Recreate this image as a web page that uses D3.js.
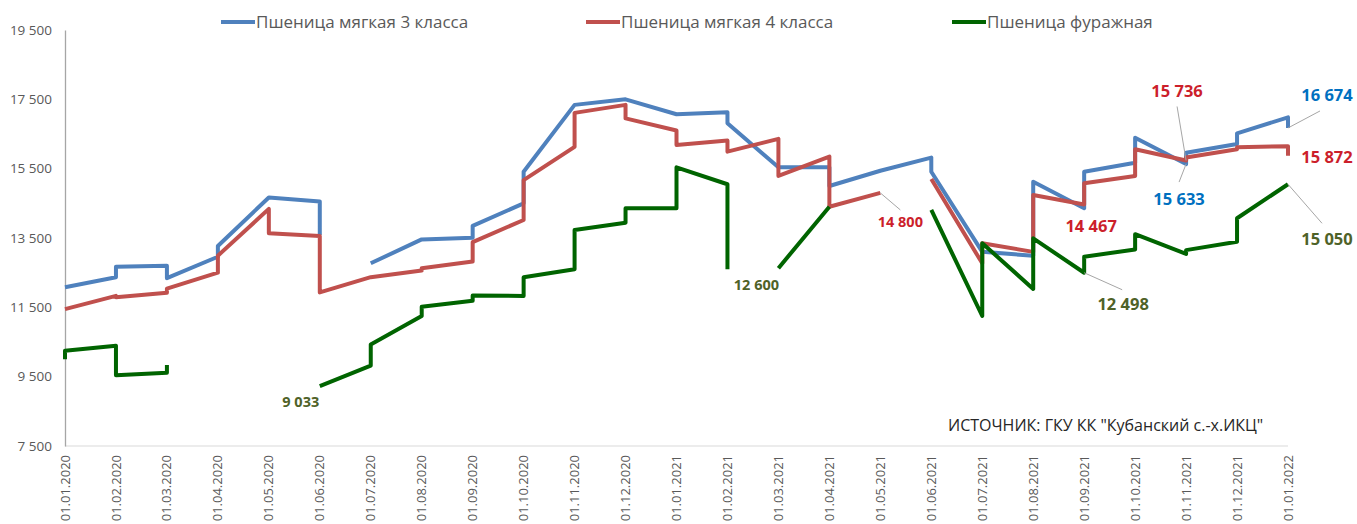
<!DOCTYPE html>
<head>
  <meta charset="utf-8">
  <script src="https://d3js.org/d3.v7.min.js"></script>
  <style>
    body { margin: 0; background: #fff; }
    text { font-family: "Open Sans", "Liberation Sans", sans-serif; }
  </style>
</head>
<body>
<script>
  // month tick labels (x axis categories)
  var months = ["01.01.2020", "01.02.2020", "01.03.2020", "01.04.2020", "01.05.2020", "01.06.2020",
    "01.07.2020", "01.08.2020", "01.09.2020", "01.10.2020", "01.11.2020", "01.12.2020",
    "01.01.2021", "01.02.2021", "01.03.2021", "01.04.2021", "01.05.2021", "01.06.2021",
    "01.07.2021", "01.08.2021", "01.09.2021", "01.10.2021", "01.11.2021", "01.12.2021", "01.01.2022"];

  var yTicks = [7500, 9500, 11500, 13500, 15500, 17500, 19500];

  // [month index, price]; two points on the same month make the vertical steps, null breaks the line
  var wheat3 = [[0, 12080], [1, 12370], [1, 12670], [2, 12700], [2, 12340], [3, 12960], [3, 13270],
    [4, 14670], [5, 14550], [5, 13590], [5, null], [6, 12770], [7, 13460], [8, 13510], [8, 13850],
    [9, 14500], [9, 15410], [10, 17340], [11, 17500], [12, 17070], [13, 17130], [13, 16810],
    [14, 15540], [15, 15540], [15, 15000], [16, 15440], [17, 15820], [17, 15410], [18, 13100],
    [19, 12990], [19, 15120], [20, 14360], [20, 15410], [21, 15670], [21, 16390], [22, 15633],
    [22, 15960], [23, 16210], [23, 16520], [24, 16980], [24, 16674]];

  var wheat4 = [[0, 11450], [1, 11830], [1, 11790], [2, 11920], [2, 12040], [3, 12500], [3, 12990],
    [4, 14340], [4, 13640], [5, 13560], [5, 11930], [6, 12370], [7, 12560], [7, 12630], [8, 12820],
    [8, 13380], [9, 14020], [9, 15170], [10, 16130], [10, 17110], [11, 17340], [11, 16950],
    [12, 16600], [12, 16180], [13, 16310], [13, 15990], [14, 16360], [14, 15290], [15, 15850],
    [15, 14400], [16, 14800], [16, null], [17, 15200], [18, 12770], [18, 13350], [19, 13100],
    [19, 14740], [20, 14467], [20, 15080], [21, 15290], [21, 16060], [22, 15736], [22, 15820],
    [23, 16060], [23, 16120], [24, 16150], [24, 15872]];

  var feedWheat = [[0, 10000], [0, 10250], [1, 10390], [1, 9540], [2, 9610], [2, 9840], [2, null],
    [5, 9230], [6, 9820], [6, 10430], [7, 11250], [7, 11520], [8, 11690], [8, 11840], [9, 11830],
    [9, 12370], [10, 12600], [10, 13730], [11, 13940], [11, 14360], [12, 14360], [12, 15540],
    [13, 15050], [13, 12600], [13, null], [14, 12630], [15, 14400], [15, null], [17, 14310],
    [18, 11250], [18, 13350], [19, 12030], [19, 13490], [20, 12498], [20, 12960], [21, 13170],
    [21, 13610], [22, 13040], [22, 13150], [23, 13390], [23, 14070], [24, 15050]];

  var seriesNames = ["Пшеница мягкая 3 класса", "Пшеница мягкая 4 класса", "Пшеница фуражная"];
  var seriesColors = ["#4f81bd", "#c0504d", "#006400"];
  var labelColors = ["#0070c0", "#cc1f2b", "#4f6228"];

  // data labels: series, month index, value shown
  var dataLabels = [
    { s: 2, m: 5, v: 9033 }, { s: 2, m: 13, v: 12600 }, { s: 1, m: 16, v: 14800 },
    { s: 1, m: 22, v: 15736 }, { s: 0, m: 22, v: 15633 }, { s: 1, m: 20, v: 14467 },
    { s: 2, m: 20, v: 12498 }, { s: 0, m: 24, v: 16674 }, { s: 1, m: 24, v: 15872 },
    { s: 2, m: 24, v: 15050 }];

  var outerWidth = 1357, outerHeight = 524;
  var margin = { top: 30, left: 65, right: 69, bottom: 78 };

  // label placement relative to its point (dx, dy, leader end, size)
  var labelPlace = [
    { dx: -19, dy: 9, size: 14.5 }, { dx: 29, dy: 16, size: 14.5 }, { dx: 20, dy: 29, size: 14.5, lx: 20, ly: 17 },
    { dx: -9, dy: -69, size: 16.5, lx: -9, ly: -54 }, { dx: -7, dy: 35, size: 16.5, lx: -7, ly: 18 },
    { dx: 7, dy: 22, size: 16.5 }, { dx: 39, dy: 31, size: 16.5, lx: 38, ly: 17 },
    { dx: 39, dy: -33, size: 16.5, lx: 32, ly: -17 }, { dx: 39, dy: 1, size: 16.5 },
    { dx: 39, dy: 55, size: 16.5, lx: 34, ly: 39 }];

  var width = outerWidth - margin.left - margin.right,
    height = outerHeight - margin.top - margin.bottom;

  var xScale = d3.scalePoint().domain(d3.range(months.length)).range([0, width]);
  var yScale = d3.scaleLinear().domain([7500, 19500]).range([height, 0]);

  var svg = d3.select("body").append("svg")
    .attr("width", outerWidth)
    .attr("height", outerHeight)
    .append("g")
    .attr("transform", "translate(" + margin.left + "," + margin.top + ")");

  // x axis baseline
  svg.append("line")
    .attr("x1", 0).attr("x2", width)
    .attr("y1", height).attr("y2", height)
    .attr("stroke", "#d9d9d9").attr("stroke-width", 1);

  // y axis
  var yAxis = svg.append("g")
    .call(d3.axisLeft(yScale).tickValues(yTicks).tickSize(0).tickPadding(13)
      .tickFormat(function(d) { return d3.format(",")(d).replace(",", " "); }));
  yAxis.select(".domain").attr("stroke", "#a6a6a6").attr("stroke-width", 1.3);
  yAxis.selectAll("text").attr("fill", "#595959").style("font-size", "13.5px")
    .style("font-family", "'Open Sans', sans-serif");

  // x tick labels, rotated
  svg.append("g").selectAll("text")
    .data(months)
    .enter().append("text")
    .attr("transform", function(d, i) { return "translate(" + xScale(i) + "," + (height + 9) + ") rotate(-90)"; })
    .attr("dy", "0.35em")
    .attr("text-anchor", "end")
    .attr("fill", "#595959")
    .style("font-size", "13px")
    .text(function(d) { return d; });

  var line = d3.line()
    .defined(function(d) { return d[1] !== null; })
    .x(function(d) { return xScale(d[0]); })
    .y(function(d) { return yScale(d[1]); });

  var allSeries = [wheat3, wheat4, feedWheat];
  allSeries.forEach(function(data, i) {
    svg.append("path")
      .datum(data)
      .attr("d", line)
      .attr("fill", "none")
      .attr("stroke", seriesColors[i])
      .attr("stroke-width", 4)
      .attr("stroke-linejoin", "round");
  });

  // data labels + leader lines
  var fmt = function(v) { return d3.format(",")(v).replace(",", " "); };
  dataLabels.forEach(function(d, i) {
    var p = labelPlace[i];
    var px = xScale(d.m), py = yScale(d.v);
    if (p.lx !== undefined) {
      svg.append("line")
        .attr("x1", px).attr("y1", py)
        .attr("x2", px + p.lx).attr("y2", py + p.ly)
        .attr("stroke", "#a6a6a6").attr("stroke-width", 1);
    }
    svg.append("text")
      .attr("x", px + p.dx).attr("y", py + p.dy)
      .attr("dy", "0.35em")
      .attr("text-anchor", "middle")
      .attr("fill", labelColors[d.s])
      .style("font-size", p.size + "px")
      .style("font-weight", "bold")
      .text(fmt(d.v));
  });

  // legend across the top
  var legendX = [156, 521, 887];
  var legend = svg.append("g").attr("transform", "translate(0," + (-8) + ")");
  seriesNames.forEach(function(name, i) {
    legend.append("line")
      .attr("x1", legendX[i]).attr("x2", legendX[i] + 34)
      .attr("y1", 0).attr("y2", 0)
      .attr("stroke", seriesColors[i]).attr("stroke-width", 4);
    legend.append("text")
      .attr("x", legendX[i] + 35).attr("y", 0)
      .attr("dy", "0.35em")
      .attr("fill", "#595959")
      .style("font-size", "17px")
      .text(name);
  });

  // source note
  svg.append("text")
    .attr("x", 883).attr("y", 395)
    .attr("dy", "0.35em")
    .attr("fill", "#262626")
    .style("font-size", "16px")
    .text("ИСТОЧНИК: ГКУ КК \"Кубанский с.-х.ИКЦ\"");
</script>
</body>
